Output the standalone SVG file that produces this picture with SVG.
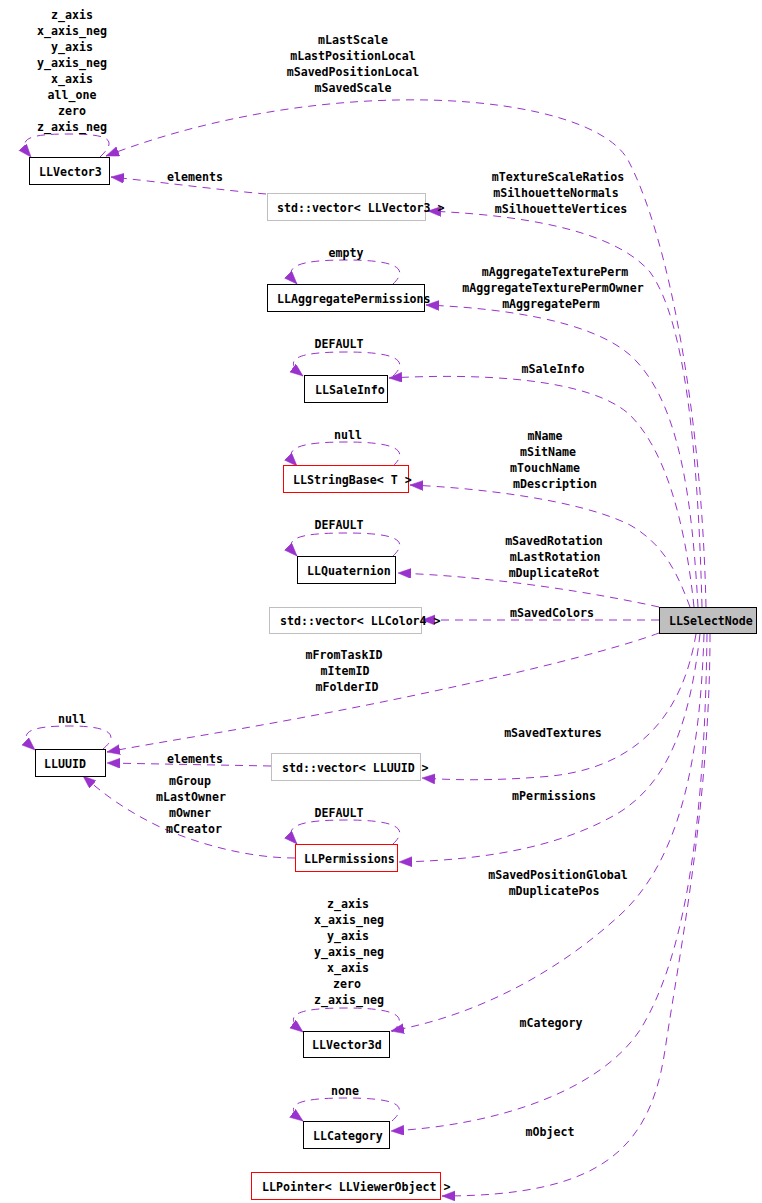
<svg xmlns="http://www.w3.org/2000/svg" width="762" height="1203" viewBox="0 0 762 1203">
<style>
text{font-family:"DejaVu Sans Mono","Liberation Mono",monospace;font-size:11.6px;font-weight:bold;fill:#000}
.lbl{text-anchor:middle}
.n{fill:#fff;stroke:#000;stroke-width:1}
.g{fill:#fff;stroke:#bfbfbf;stroke-width:1}
.r{fill:#fff;stroke:#ff0000;stroke-width:1}
.s{fill:#bfbfbf;stroke:#000;stroke-width:1}
.e{fill:none;stroke:#9a32cd;stroke-width:1;stroke-dasharray:8,6;marker-end:url(#a)}
</style>
<defs>
<marker id="a" markerUnits="userSpaceOnUse" markerWidth="14" markerHeight="11" refX="13" refY="5" orient="auto">
<path d="M0,0 L13,5 L0,10 Z" fill="#9a32cd" stroke="#9a32cd" stroke-width="0.5"/>
</marker>
</defs>
<g id="connectors">
<path class="e" d="M706,607 C702,420 670,240 628,160 C590,92 330,70 106,156"/>
<path class="e" d="M100,157 C118,140 110,134 69,134 C30,134 15,138 31,157"/>
<path class="e" d="M266,194 C220,190 160,182 111,177"/>
<path class="e" d="M702,607 C698,450 685,320 650,272 C610,225 500,214 428,211"/>
<path class="e" d="M393,284 C410,268 395,260 346,260 C300,260 280,266 297,284"/>
<path class="e" d="M698,607 C692,500 680,400 630,355 C590,320 500,308 426,305"/>
<path class="e" d="M393,376 C410,360 395,352 346,352 C300,352 280,358 303,376"/>
<path class="e" d="M694,607 C685,520 665,450 630,415 C590,378 480,373 389,378"/>
<path class="e" d="M393,466 C410,450 395,442 346,442 C300,442 280,448 297,466"/>
<path class="e" d="M690,607 C678,575 665,545 630,525 C580,500 480,488 410,485"/>
<path class="e" d="M393,556 C410,540 395,533 346,533 C300,533 280,538 297,556"/>
<path class="e" d="M659,607 C600,594 500,577 398,573"/>
<path class="e" d="M659,620 L422,620"/>
<path class="e" d="M103,749 C120,735 110,726 70,726 C30,726 15,732 35,750"/>
<path class="e" d="M659,633 C600,655 450,690 300,718 C220,733 160,742 107,752"/>
<path class="e" d="M271,766 L107,763"/>
<path class="e" d="M696,634 C685,700 650,770 540,777 C490,781 450,780 422,778"/>
<path class="e" d="M295,858 C250,858 200,845 160,827 C125,810 105,795 83,776"/>
<path class="e" d="M393,844 C410,828 395,820 346,820 C300,820 280,826 297,844"/>
<path class="e" d="M700,634 C690,720 670,780 620,812 C570,842 500,860 399,862"/>
<path class="e" d="M392,1032 C410,1016 395,1008 346,1008 C300,1008 280,1014 303,1032"/>
<path class="e" d="M704,634 C700,760 680,860 620,915 C560,970 480,1015 391,1031"/>
<path class="e" d="M392,1121 C410,1105 395,1098 346,1098 C300,1098 280,1104 303,1121"/>
<path class="e" d="M707,634 C705,800 690,950 640,1030 C600,1090 500,1125 391,1131"/>
<path class="e" d="M710,634 C710,800 680,950 665,1050 C650,1150 600,1196 442,1196"/>
</g>
<g id="labels">
<text class="lbl" x="72" y="19">z_axis</text>
<text class="lbl" x="72" y="35">x_axis_neg</text>
<text class="lbl" x="72" y="51">y_axis</text>
<text class="lbl" x="72" y="67">y_axis_neg</text>
<text class="lbl" x="72" y="83">x_axis</text>
<text class="lbl" x="72" y="99">all_one</text>
<text class="lbl" x="72" y="115">zero</text>
<text class="lbl" x="72" y="131">z_axis_neg</text>
<text class="lbl" x="353" y="44">mLastScale</text>
<text class="lbl" x="353" y="60">mLastPositionLocal</text>
<text class="lbl" x="353" y="76">mSavedPositionLocal</text>
<text class="lbl" x="353" y="92">mSavedScale</text>
<text class="lbl" x="195" y="181">elements</text>
<text class="lbl" x="558" y="181">mTextureScaleRatios</text>
<text class="lbl" x="556" y="197">mSilhouetteNormals</text>
<text class="lbl" x="561" y="213">mSilhouetteVertices</text>
<text class="lbl" x="346" y="257">empty</text>
<text class="lbl" x="555" y="276">mAggregateTexturePerm</text>
<text class="lbl" x="553" y="292">mAggregateTexturePermOwner</text>
<text class="lbl" x="551" y="308">mAggregatePerm</text>
<text class="lbl" x="339" y="348">DEFAULT</text>
<text class="lbl" x="553" y="373">mSaleInfo</text>
<text class="lbl" x="348" y="439">null</text>
<text class="lbl" x="545" y="440">mName</text>
<text class="lbl" x="548" y="456">mSitName</text>
<text class="lbl" x="545" y="472">mTouchName</text>
<text class="lbl" x="555" y="488">mDescription</text>
<text class="lbl" x="339" y="529">DEFAULT</text>
<text class="lbl" x="554" y="545">mSavedRotation</text>
<text class="lbl" x="555" y="561">mLastRotation</text>
<text class="lbl" x="554" y="577">mDuplicateRot</text>
<text class="lbl" x="552" y="617">mSavedColors</text>
<text class="lbl" x="344" y="659">mFromTaskID</text>
<text class="lbl" x="345" y="675">mItemID</text>
<text class="lbl" x="347" y="691">mFolderID</text>
<text class="lbl" x="72" y="723">null</text>
<text class="lbl" x="195" y="763">elements</text>
<text class="lbl" x="553" y="737">mSavedTextures</text>
<text class="lbl" x="190" y="785">mGroup</text>
<text class="lbl" x="191" y="801">mLastOwner</text>
<text class="lbl" x="190" y="817">mOwner</text>
<text class="lbl" x="194" y="833">mCreator</text>
<text class="lbl" x="339" y="817">DEFAULT</text>
<text class="lbl" x="554" y="800">mPermissions</text>
<text class="lbl" x="558" y="879">mSavedPositionGlobal</text>
<text class="lbl" x="554" y="895">mDuplicatePos</text>
<text class="lbl" x="348" y="908">z_axis</text>
<text class="lbl" x="349" y="924">x_axis_neg</text>
<text class="lbl" x="348" y="940">y_axis</text>
<text class="lbl" x="349" y="956">y_axis_neg</text>
<text class="lbl" x="348" y="972">x_axis</text>
<text class="lbl" x="347" y="988">zero</text>
<text class="lbl" x="349" y="1004">z_axis_neg</text>
<text class="lbl" x="551" y="1027">mCategory</text>
<text class="lbl" x="345" y="1095">none</text>
<text class="lbl" x="550" y="1136">mObject</text>
</g>
<g id="LLVector3"><rect class="n" x="29.5" y="157.5" width="80" height="27"/><text x="39" y="176">LLVector3</text></g>
<g id="vectorLLVector3"><rect class="g" x="267.5" y="193.5" width="158" height="27"/><text x="277" y="212">std::vector&lt; LLVector3 &gt;</text></g>
<g id="LLAggregatePermissions"><rect class="n" x="267.5" y="284.5" width="157" height="27"/><text x="277" y="303">LLAggregatePermissions</text></g>
<g id="LLSaleInfo"><rect class="n" x="304.5" y="375.5" width="83" height="27"/><text x="315" y="394">LLSaleInfo</text></g>
<g id="LLStringBase"><rect class="r" x="283.5" y="465.5" width="125" height="27"/><text x="293" y="484">LLStringBase&lt; T &gt;</text></g>
<g id="LLQuaternion"><rect class="n" x="297.5" y="556.5" width="98" height="27"/><text x="307" y="575">LLQuaternion</text></g>
<g id="vectorLLColor4"><rect class="g" x="269.5" y="607.5" width="152" height="26"/><text x="280" y="625">std::vector&lt; LLColor4 &gt;</text></g>
<g id="LLSelectNode"><rect class="s" x="659.5" y="607.5" width="97" height="26"/><text x="669" y="625">LLSelectNode</text></g>
<g id="LLUUID"><rect class="n" x="35.5" y="749.5" width="70" height="27"/><text x="44" y="768">LLUUID</text></g>
<g id="vectorLLUUID"><rect class="g" x="271.5" y="753.5" width="149" height="27"/><text x="282" y="772">std::vector&lt; LLUUID &gt;</text></g>
<g id="LLPermissions"><rect class="r" x="295.5" y="844.5" width="102" height="27"/><text x="304" y="863">LLPermissions</text></g>
<g id="LLVector3d"><rect class="n" x="303.5" y="1031.5" width="86" height="26"/><text x="312" y="1049">LLVector3d</text></g>
<g id="LLCategory"><rect class="n" x="303.5" y="1121.5" width="86" height="27"/><text x="313" y="1140">LLCategory</text></g>
<g id="LLPointer"><rect class="r" x="251.5" y="1172.5" width="189" height="27"/><text x="262" y="1191">LLPointer&lt; LLViewerObject &gt;</text></g>
</svg>
